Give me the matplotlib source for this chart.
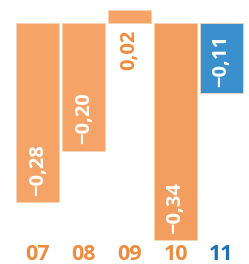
import matplotlib
matplotlib.use("Agg")
import matplotlib.pyplot as plt

months = ["07", "08", "09", "10", "11"]
values = [-0.28, -0.20, 0.02, -0.34, -0.11]
labels = ["\u22120,28", "\u22120,20", "0,02", "\u22120,34", "\u22120,11"]
bar_colors = ["#F5A366", "#F5A366", "#F5A366", "#F39D5E", "#3A90CD"]
text_colors = ["#F08A3C", "#F08A3C", "#F08A3C", "#F08A3C", "#1C70B6"]

plt.rcParams["font.family"] = ["Open Sans", "DejaVu Sans"]

fig = plt.figure(figsize=(2.49, 2.64), dpi=100)
ax = fig.add_axes([0, 0, 1, 1])

x = list(range(len(months)))
ax.bar(x, values, width=0.937, color=bar_colors, edgecolor="#FBD2B0", linewidth=0.6)

px = 1 / 640.0
for i, v in enumerate(values):
    if v < 0:
        ax.text(i, v + 6 * px, labels[i], rotation=90, ha="center", va="bottom",
                color="white", fontsize=14.5, fontweight="bold")
    else:
        ax.text(i, -7.5 * px, labels[i], rotation=90, ha="center", va="top",
                color=text_colors[i], fontsize=14.5, fontweight="bold")
    ax.text(i, -(255 - 22.5) * px, months[i], ha="center", va="center",
            color=text_colors[i], fontsize=15.5, fontweight="bold")

ax.set_xlim(-0.828, 4.6)
ax.set_ylim(-(264 - 22.5) * px, 22.5 * px)
ax.axis("off")

fig.savefig("out.png", dpi=100)
